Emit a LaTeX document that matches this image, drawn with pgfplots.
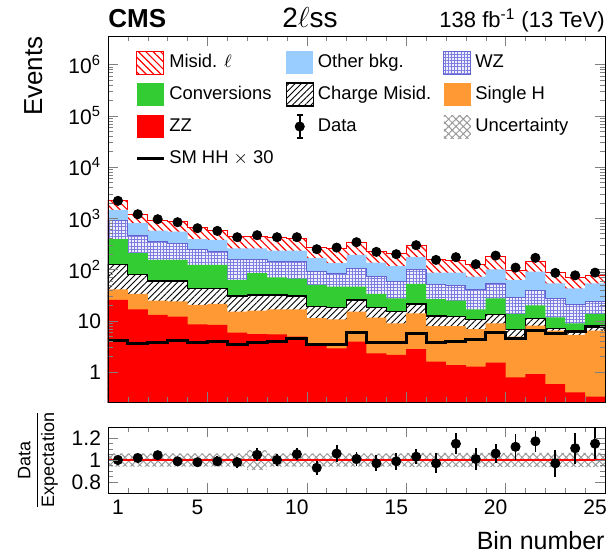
\documentclass[border=0pt]{standalone}
\usepackage{pgfplots}
\pgfplotsset{compat=1.18}
\usepackage{pgfplotstable}
\usepackage{fontspec}
\setmainfont{Liberation Sans}
\usetikzlibrary{patterns,patterns.meta,calc}
\usepgfplotslibrary{fillbetween}

\definecolor{otherblue}{RGB}{153,204,255}
\definecolor{wzfill}{RGB}{238,238,252}
\definecolor{wzline}{RGB}{125,125,225}
\definecolor{wzedge}{RGB}{100,100,210}
\definecolor{convgreen}{RGB}{51,204,51}
\definecolor{singleH}{RGB}{255,153,51}
\definecolor{zzred}{RGB}{255,0,0}

\tikzset{
 misidsty/.style={draw=red, line width=0.5pt, fill=white, postaction={pattern={Lines[angle=-45,distance=2.6pt,line width=0.6pt]}, pattern color=red}},
 othersty/.style={draw=none, fill=otherblue},
 wzsty/.style={draw=wzedge, line width=0.5pt, fill=wzfill, postaction={pattern={Hatch[angle=0,distance=1.6pt,line width=0.3pt]}, pattern color=wzline}},
 convsty/.style={draw=none, fill=convgreen},
 chmissty/.style={draw=black, line width=0.6pt, fill=white, postaction={pattern={Lines[angle=45,distance=2.2pt,line width=0.45pt]}, pattern color=black}},
 singlesty/.style={draw=none, fill=singleH},
 zzsty/.style={draw=none, fill=zzred},
 uncsty/.style={draw=none, pattern={Hatch[angle=45,distance=2.6pt,line width=0.5pt]}, pattern color=gray!80}
}
\newcommand\legbox[1]{\addlegendimage{legend image code/.code={\path[#1] (0pt,-5.75pt) rectangle (13.5pt,5.75pt);}}}

% cumulative stack tops: T=Misid (total), O=Other, W=WZ, G=Conversions, C=Charge misid, S=Single H, Z=ZZ; H=SM HH x30
\pgfplotstableread{
x T O W G C S Z H
0.5 2190 1460 903 390 125 41.2 25.5 4.2
1.5 1180 801 453 208 81 33.4 16.7 3.63
2.5 919 576 351 154 59.9 24.7 13 3.8
3.5 848 550 326 154 59.9 24 12.1 4.2
4.5 653 390 241 123 43.1 20.4 8.5 3.74
5.5 574 380 225 123 43.1 21.3 8.3 4.0
6.5 436 260 154 62.7 30.5 15.1 5.9 3.47
7.5 446 260 159 85 31.9 15.8 5.5 3.8
8.5 427 234 145 70 31.9 16.7 5.4 4.0
9.5 405 234 143 66.5 30.5 16.7 4.9 4.5
10.5 268 166 91 50 18.9 11.2 3.37 3.37
11.5 253 133 82 46.4 18.3 10.7 2.9 3.52
12.5 338 193 106 46.4 25.5 15.1 3.9 5.9
13.5 228 137 73 33.4 18.1 11.5 2.3 3.74
14.5 201 117 58.1 27.5 15.1 8.9 2.15 3.8
15.5 289 174 98 52.3 21.3 14 2.8 5.7
16.5 159 87 50 26.3 12.4 7.9 1.59 3.8
17.5 152 87 47.8 24.7 12.1 7.9 1.37 3.9
18.5 126 73 40 16.7 10.7 6.9 1.27 4.35
19.5 177 101 53.9 27.5 13.4 8.9 1.52 5.9
20.5 97 62.7 28.7 13.6 6.8 4.9 0.79 4.5
21.5 144 91 38.8 20 11.2 8.0 0.91 6.6
22.5 89 53.9 27.5 11.7 7.1 6.4 0.58 5.7
23.5 70 43.1 20.4 8.9 6.1 5.3 0.40 6.1
24.5 76 53.9 23.6 13.6 7.5 6.4 0.33 7.7
25.5 76 53.9 23.6 13.6 7.5 6.4 0.33 7.7
}\stack

\pgfplotstableread{
x d e r re
1 2190 47 1.00 0.02
2 1200 35 1.018 0.025
3 959 31 1.044 0.03
4 838 29 0.988 0.03
5 640 25 0.98 0.03
6 567 24 0.988 0.045
7 427 21 0.98 0.05
8 467 22 1.047 0.06
9 427 21 1.00 0.055
10 427 21 1.053 0.055
11 249 16 0.929 0.064
12 268 16 1.059 0.078
13 341 18 1.009 0.064
14 221 15 0.97 0.074
15 199 14 0.988 0.08
16 298 17 1.03 0.07
17 154 12 0.97 0.09
18 174 13 1.148 0.096
19 127 11 1.009 0.1
20 187 14 1.059 0.085
21 109 10 1.12 0.12
22 169 13 1.17 0.098
23 86 9 0.97 0.12
24 77 9 1.107 0.14
25 87 9 1.148 0.14
}\data

\pgfplotstableread{
x lo hi
0.5 0.94 1.06
1.5 0.94 1.06
2.5 0.94 1.06
3.5 0.94 1.06
4.5 0.94 1.06
5.5 0.94 1.06
6.5 0.94 1.06
7.5 0.91 1.09
8.5 0.94 1.06
9.5 0.94 1.06
10.5 0.94 1.06
11.5 0.94 1.06
12.5 0.94 1.06
13.5 0.94 1.06
14.5 0.94 1.06
15.5 0.935 1.065
16.5 0.935 1.065
17.5 0.935 1.065
18.5 0.935 1.065
19.5 0.935 1.065
20.5 0.935 1.065
21.5 0.935 1.065
22.5 0.935 1.065
23.5 0.935 1.065
24.5 0.935 1.065
25.5 0.935 1.065
}\band

\begin{document}
\begin{tikzpicture}
\begin{axis}[
 name=main,
 scale only axis, width=248.5pt, height=183pt,
 xmin=0.5, xmax=25.5,
 ymode=log, ymin=0.26, ymax=3.6e6,
 log origin y=infty,
 axis on top,
 xtick={5.5,10.5,15.5,20.5}, xticklabels={},
 minor xtick={1.5,2.5,...,24.5},
 ytick={1,10,100,1000,10000,100000,1000000},
 yticklabels={1,10,10\textsuperscript{2},10\textsuperscript{3},10\textsuperscript{4},10\textsuperscript{5},10\textsuperscript{6}},
 tick align=inside, xtick pos=both, ytick pos=both,
 major tick length=5pt, minor tick length=2.5pt,
 tick label style={font=\fontsize{10.5}{12}\selectfont},
 ylabel={Events},
 ylabel style={at={(axis description cs:-0.131,1)}, anchor=south east, font=\fontsize{13}{15}\selectfont, inner sep=0pt},
 legend columns=3,
 legend cell align=left,
 legend style={at={(rel axis cs:0.042,0.972)}, anchor=north west, draw=none, fill=none,
   font=\fontsize{9.2}{11}\selectfont, row sep=3.7pt,
   /tikz/every even column/.append style={column sep=4pt}},
]
\addplot[const plot mark left, misidsty, forget plot] table[x=x,y=T]{\stack} \closedcycle;
\addplot[const plot mark left, othersty, forget plot] table[x=x,y=O]{\stack} \closedcycle;
\addplot[const plot mark left, wzsty, forget plot] table[x=x,y=W]{\stack} \closedcycle;
\addplot[const plot mark left, convsty, forget plot] table[x=x,y=G]{\stack} \closedcycle;
\addplot[const plot mark left, chmissty, forget plot] table[x=x,y=C]{\stack} \closedcycle;
\addplot[const plot mark left, singlesty, forget plot] table[x=x,y=S]{\stack} \closedcycle;
\addplot[const plot mark left, zzsty, forget plot] table[x=x,y=Z]{\stack} \closedcycle;
\addplot[const plot mark left, black, line width=1.5pt, forget plot] table[x=x,y=H]{\stack};
\addplot[only marks, mark=*, mark size=2.3pt, black, forget plot,
  error bars/.cd, y dir=both, y explicit, error mark=none, error bar style={line width=0.9pt}]
  table[x=x,y=d,y error=e]{\data};

\legbox{misidsty}\addlegendentry{Misid. $\ell$}
\legbox{othersty}\addlegendentry{Other bkg.}
\legbox{wzsty}\addlegendentry{WZ}
\legbox{convsty}\addlegendentry{Conversions}
\legbox{chmissty}\addlegendentry{Charge Misid.}
\legbox{singlesty}\addlegendentry{Single H}
\legbox{zzsty}\addlegendentry{ZZ}
\addlegendimage{legend image code/.code={\draw[black, line width=0.9pt] (6.75pt,-5.75pt) -- (6.75pt,5.75pt); \draw[black, line width=0.9pt] (5.25pt,-5.75pt) -- (8.25pt,-5.75pt) (5.25pt,5.75pt) -- (8.25pt,5.75pt); \fill[black] (6.75pt,0pt) circle (2.3pt);}}\addlegendentry{Data}
\legbox{uncsty}\addlegendentry{Uncertainty}
\addlegendimage{legend image code/.code={\draw[black, line width=1.5pt] (0pt,0pt) -- (13.5pt,0pt);}}\addlegendentry{SM HH $\times$ 30}
\end{axis}

\node[anchor=base west, font=\bfseries\fontsize{13}{15}\selectfont, inner xsep=0pt] at ($(main.north west)+(0,4.5pt)$) {CMS};
\node[anchor=base, font=\fontsize{14}{16}\selectfont] at ($(main.north west)+(101pt,4.5pt)$) {2$\ell$ss};
\node[anchor=base east, font=\fontsize{11}{13}\selectfont, inner xsep=0pt] at ($(main.north east)+(0,4.5pt)$) {138 fb\textsuperscript{-1} (13 TeV)};

\begin{axis}[
 name=ratio,
 at={($(main.south west)+(0,-12.5pt)$)}, anchor=north west,
 scale only axis, width=248.5pt, height=33pt,
 xmin=0.5, xmax=25.5, ymin=0.7, ymax=1.3,
 axis on top,
 ytick={0.8,1,1.2}, yticklabels={0.8,1,1.2},
 minor y tick num=3,
 xtick={5.5,10.5,15.5,20.5}, xticklabels={},
 minor xtick={1.5,2.5,...,24.5},
 extra x ticks={1,5,10,15,20,25}, extra x tick labels={1,5,10,15,20,25},
 extra x tick style={major tick length=0pt},
 tick align=inside, xtick pos=both, ytick pos=both,
 major tick length=5pt, minor tick length=2.5pt,
 tick label style={font=\fontsize{10.5}{12}\selectfont},
 xlabel={Bin number},
 xlabel style={at={(axis description cs:1,0)}, anchor=north east, font=\fontsize{12.5}{14}\selectfont, inner sep=0pt, yshift=-19pt},
 ylabel={$\displaystyle\frac{\mbox{Data}}{\mbox{Expectation}}$},
 ylabel style={at={(axis description cs:-0.1,0.5)}, anchor=south, font=\fontsize{9}{10}\selectfont, inner sep=0pt},
]
\addplot[name path=hi, draw=none, const plot mark left, forget plot] table[x=x,y=hi]{\band};
\addplot[name path=lo, draw=none, const plot mark left, forget plot] table[x=x,y=lo]{\band};
\addplot[uncsty, forget plot] fill between[of=hi and lo];
\addplot[red, line width=1.3pt, forget plot] coordinates {(0.5,1) (25.5,1)};
\addplot[only marks, mark=*, mark size=2.3pt, black, forget plot,
  error bars/.cd, y dir=both, y explicit, error mark=none, error bar style={line width=0.9pt}]
  table[x=x,y=r,y error=re]{\data};
\end{axis}

\path ($(main.south west)+(-54pt,-75.5pt)$) rectangle ($(main.south west)+(253.5pt,201pt)$);
\end{tikzpicture}
\end{document}
